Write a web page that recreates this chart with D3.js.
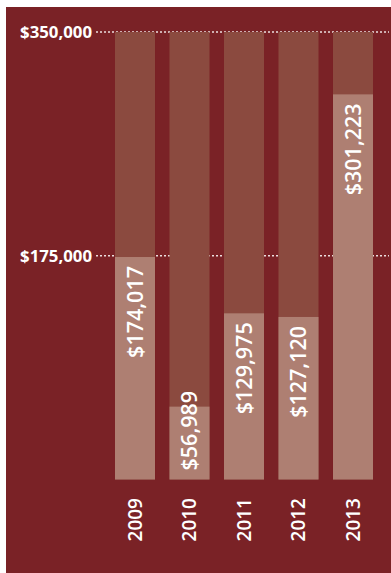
<!DOCTYPE html>
<html>
<head>
<meta charset="utf-8">
<script src="https://cdn.jsdelivr.net/npm/d3@7/dist/d3.min.js"></script>
<style>
  html, body { margin: 0; padding: 0; background: #ffffff; }
  svg { display: block; }
</style>
</head>
<body>
<svg id="chart" width="391" height="573"></svg>
<script>
// Annual totals by year
const years = ["2009", "2010", "2011", "2012", "2013"];
const amounts = [174017, 56989, 129975, 127120, 301223];
const tickValues = [175000, 350000];
const axisMax = 350000;

const W = 391, H = 573;
const svg = d3.select("#chart");

// Panel background
svg.append("rect")
  .attr("x", 6).attr("y", 7)
  .attr("width", W - 6).attr("height", H - 7)
  .attr("fill", "#7a2226");

const x = d3.scaleBand()
  .domain(years)
  .range([115, 373])
  .paddingInner(0.266)
  .paddingOuter(0);

const y = d3.scaleLinear()
  .domain([0, axisMax])
  .range([479.5, 32]);

const fmt = v => "$" + d3.format(",")(v);

// Dotted gridlines with tick labels
const grid = svg.append("g");
grid.selectAll("line")
  .data(tickValues)
  .join("line")
  .attr("x1", 96).attr("x2", 389)
  .attr("y1", d => y(d)).attr("y2", d => y(d))
  .attr("stroke", "#ffffff")
  .attr("stroke-opacity", 0.85)
  .attr("stroke-width", 1.3)
  .attr("stroke-dasharray", "2,2");

grid.selectAll("text")
  .data(tickValues)
  .join("text")
  .attr("x", 92)
  .attr("y", d => y(d))
  .attr("dy", "0.35em")
  .attr("text-anchor", "end")
  .attr("fill", "#ffffff")
  .attr("font-family", "'Open Sans', sans-serif")
  .attr("font-weight", 700)
  .attr("font-size", 16.8)
  .text(fmt);

const data = years.map((yr, i) => ({ year: yr, value: amounts[i] }));

// Full-scale track behind each bar
svg.append("g").selectAll("rect")
  .data(data)
  .join("rect")
  .attr("x", d => x(d.year))
  .attr("width", x.bandwidth())
  .attr("y", y(axisMax))
  .attr("height", y(0) - y(axisMax))
  .attr("fill", "#8b4a3f");

// Value bars
svg.append("g").selectAll("rect")
  .data(data)
  .join("rect")
  .attr("x", d => x(d.year))
  .attr("width", x.bandwidth())
  .attr("y", d => y(d.value))
  .attr("height", d => y(0) - y(d.value))
  .attr("fill", "#ae7f72");

// Rotated value labels, reading upward from inside the bar
const labels = svg.append("g").selectAll("text")
  .data(data)
  .join("text")
  .attr("fill", "#ffffff")
  .attr("font-family", "'Open Sans', sans-serif")
  .attr("font-weight", 600)
  .attr("font-size", 21.5)
  .attr("text-anchor", "start")
  .attr("dy", "0.36em")
  .text(d => fmt(d.value));

labels.each(function(d) {
  const len = this.getComputedTextLength();
  const start = Math.min(y(d.value) + 9 + len, y(0) - 9);
  const cx = x(d.year) + x.bandwidth() / 2;
  d3.select(this).attr("transform", `translate(${cx},${start}) rotate(-90)`);
});

// Year labels below the bars
svg.append("g").selectAll("text")
  .data(years)
  .join("text")
  .attr("transform", d => `translate(${x(d) + x.bandwidth() / 2},498) rotate(-90)`)
  .attr("text-anchor", "end")
  .attr("dy", "0.36em")
  .attr("fill", "#ffffff")
  .attr("font-family", "'Open Sans', sans-serif")
  .attr("font-weight", 600)
  .attr("font-size", 19)
  .text(d => d);
</script>
</body>
</html>
